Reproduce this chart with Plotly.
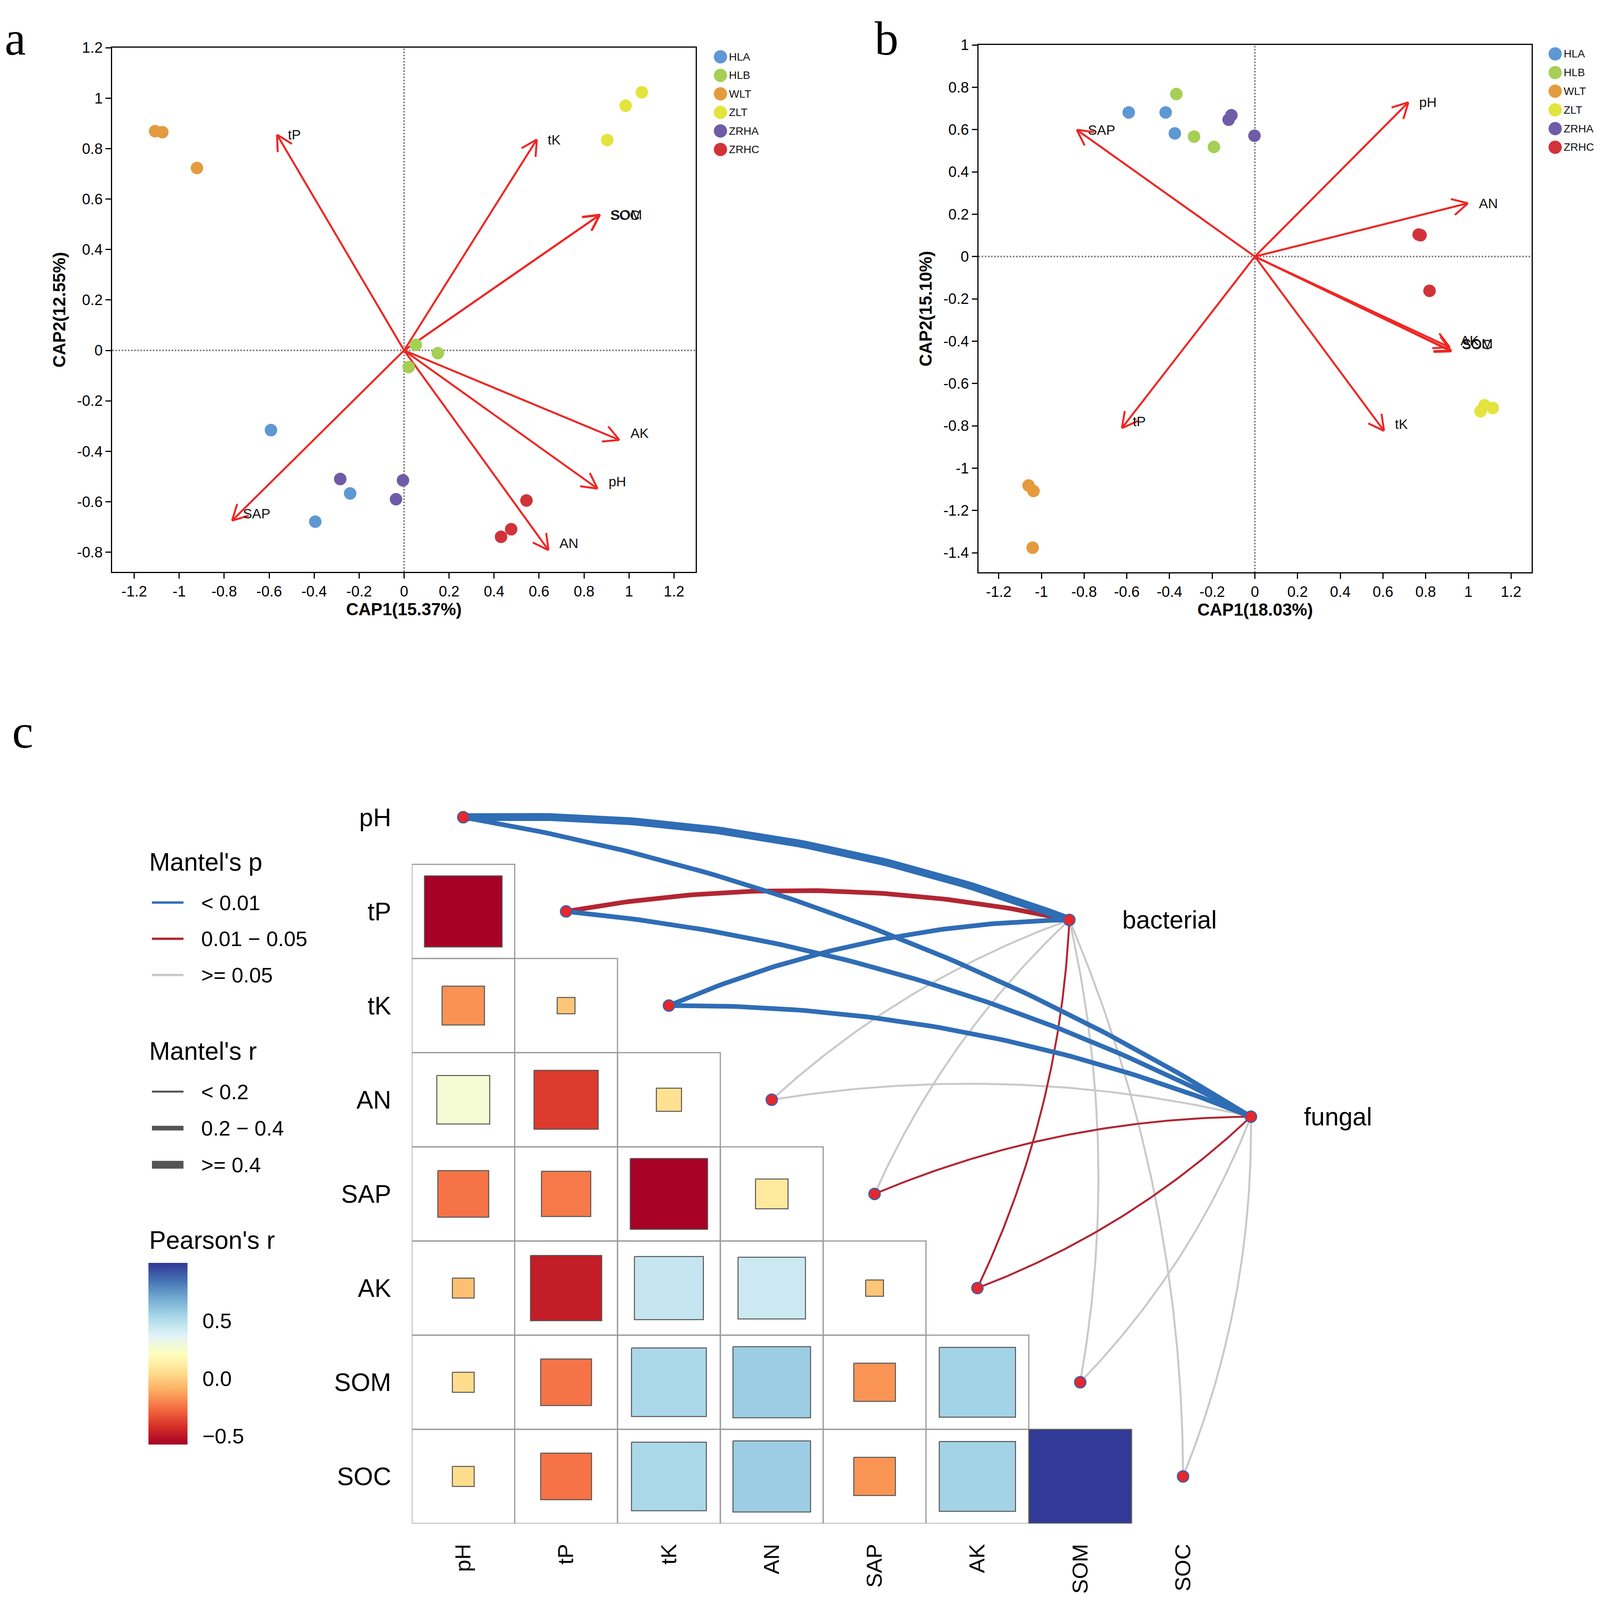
import math
import numpy as np
import plotly.graph_objects as go
from plotly.colors import sample_colorscale

# reference picture size; the figure fills the page (autosize) inside the
# 8px body margin, so positions are paper fractions of the reference pixels
REF_W, REF_H = 4212, 4116
VW, VH = 4100, 4116      # approximate page size seen by the browser
W, H = VW - 16, VH - 16  # figure size inside the body margin

FONT = 'Arial, Liberation Sans, sans-serif'
SERIF = 'Times New Roman, Liberation Serif, serif'


def fx(p):
    # reference pixel -> paper x
    return (p / REF_W * VW - 8) / W


def fy(p):
    # reference pixel -> paper y
    return 1 - (p / REF_H * VH - 8) / H


# ---------------- data: panels a / b ----------------
groups = ['HLA', 'HLB', 'WLT', 'ZLT', 'ZRHA', 'ZRHC']
group_colors = ['#5E98D3', '#A6CF55', '#E49B3E', '#E3E43D', '#6E5CA8', '#D13339']

# bacterial community, three samples per group
a_cap1 = [[-0.592, -0.240, -0.395],
          [0.052, 0.150, 0.020],
          [-1.107, -1.075, -0.921],
          [1.057, 0.985, 0.903],
          [-0.284, -0.005, -0.036],
          [0.544, 0.476, 0.431]]
a_cap2 = [[-0.316, -0.567, -0.679],
          [0.022, -0.011, -0.066],
          [0.869, 0.865, 0.723],
          [1.023, 0.970, 0.834],
          [-0.510, -0.515, -0.590],
          [-0.595, -0.709, -0.739]]

# fungal community
b_cap1 = [[-0.591, -0.418, -0.375],
          [-0.368, -0.285, -0.192],
          [-1.060, -1.037, -1.041],
          [1.057, 1.076, 1.114],
          [-0.123, -0.110, -0.002],
          [0.767, 0.776, 0.818]]
b_cap2 = [[0.681, 0.681, 0.582],
          [0.768, 0.567, 0.518],
          [-1.082, -1.108, -1.376],
          [-0.731, -0.703, -0.716],
          [0.647, 0.668, 0.571],
          [0.104, 0.101, -0.162]]

env = ['pH', 'tP', 'tK', 'AN', 'SAP', 'AK', 'SOM', 'SOC']
a_env_cap1 = [0.860, -0.565, 0.590, 0.642, -0.765, 0.957, 0.871, 0.868]
a_env_cap2 = [-0.548, 0.855, 0.836, -0.792, -0.675, -0.355, 0.538, 0.536]
b_env_cap1 = [0.719, -0.623, 0.605, 0.998, -0.834, 0.913, 0.918, 0.920]
b_env_cap2 = [0.729, -0.811, -0.824, 0.252, 0.599, -0.429, -0.444, -0.448]

a_xticks = [-1.2, -1, -0.8, -0.6, -0.4, -0.2, 0, 0.2, 0.4, 0.6, 0.8, 1, 1.2]
a_yticks = [-0.8, -0.6, -0.4, -0.2, 0, 0.2, 0.4, 0.6, 0.8, 1, 1.2]
b_xticks = a_xticks
b_yticks = [-1.4, -1.2, -1, -0.8, -0.6, -0.4, -0.2, 0, 0.2, 0.4, 0.6, 0.8, 1]

# ---------------- data: panel c ----------------
# Pearson's r, lower triangle (row i against columns 0..i-1)
pearson_r = [
    [],
    [-0.57],
    [-0.17, -0.03],
    [0.265, -0.39, 0.06],
    [-0.245, -0.23, -0.566, 0.10],
    [-0.045, -0.48, 0.45, 0.43, -0.03],
    [0.045, -0.245, 0.53, 0.57, -0.164, 0.55],
    [0.045, -0.245, 0.53, 0.57, -0.164, 0.55, 0.99],
]
r_min, r_max = -0.574, 1.0

targets = ['bacterial', 'fungal']
target_col = [5.894, 7.66]
target_row = [1.09, 3.18]
mantel_r = [[0.45, 0.25, 0.25, 0.12, 0.10, 0.15, 0.10, 0.10],
            [0.30, 0.30, 0.30, 0.10, 0.15, 0.15, 0.10, 0.10]]
mantel_p = [[0.001, 0.02, 0.001, 0.15, 0.20, 0.03, 0.30, 0.30],
            [0.001, 0.001, 0.001, 0.20, 0.02, 0.03, 0.40, 0.40]]

p_labels = ['< 0.01', '0.01 \u2212 0.05', '>= 0.05']
p_colors = ['#2F6DB5', '#B22633', '#C9C9C9']
r_labels = ['< 0.2', '0.2 \u2212 0.4', '>= 0.4']
r_widths = [5, 12, 20]

fig = go.Figure()

# ---------------- panels a and b ----------------
A_X = [fx(295.5), fx(1831)]
A_Y = [fy(1457.5), fy(102)]
B_X = [fx(2576), fx(4032.4)]
B_Y = [fy(1459), fy(95)]
a_xr, a_yr = [-1.2976, 1.2957], [-0.878, 1.2]
b_xr, b_yr = [-1.2945, 1.297], [-1.493, 1.0]


def ord_panel(cap1, cap2, ex, ey, xr, yr, dx, dy, xa, ya):
    kx = (dx[1] - dx[0]) * W / (xr[1] - xr[0])
    ky = (dy[1] - dy[0]) * H / (yr[1] - yr[0])
    # arrows (line + open head)
    ax, ay = [], []
    head, ang = 45, math.radians(28)
    for x, y in zip(ex, ey):
        ax += [0, x, None]
        ay += [0, y, None]
        ux, uy = -x * kx, -y * ky
        n = math.hypot(ux, uy)
        ux, uy = ux / n, uy / n
        for s in (1, -1):
            c, si = math.cos(s * ang), math.sin(s * ang)
            rx, ry = ux * c - uy * si, ux * si + uy * c
            ax += [x + head * rx / kx, x, None]
            ay += [y + head * ry / ky, y, None]
    fig.add_trace(go.Scatter(x=ax, y=ay, mode='lines', xaxis=xa, yaxis=ya,
                             line=dict(color='#EE2724', width=5),
                             hoverinfo='skip', showlegend=False))
    for name, x, y in zip(env, ex, ey):
        fig.add_annotation(x=x, y=y, xref=xa, yref=ya, text=name, showarrow=False,
                           xanchor='left', yanchor='middle', xshift=26,
                           yshift=18 if y < 0 else 0,
                           font=dict(family=FONT, size=35, color='#111'))
    for g, col, xs, ys in zip(groups, group_colors, cap1, cap2):
        fig.add_trace(go.Scatter(x=xs, y=ys, mode='markers', name=g, xaxis=xa, yaxis=ya,
                                 marker=dict(color=col, size=32, line=dict(width=0)),
                                 showlegend=False))


ord_panel(a_cap1, a_cap2, a_env_cap1, a_env_cap2, a_xr, a_yr, A_X, A_Y, 'x', 'y')
ord_panel(b_cap1, b_cap2, b_env_cap1, b_env_cap2, b_xr, b_yr, B_X, B_Y, 'x2', 'y2')

# group keys for a and b (marker column + label)
for xa, ya in (('x4', 'y4'), ('x5', 'y5')):
    fig.add_trace(go.Scatter(x=[0] * len(groups), y=list(range(len(groups))),
                             mode='markers', marker=dict(color=group_colors, size=34),
                             cliponaxis=False, xaxis=xa, yaxis=ya,
                             hoverinfo='skip', showlegend=False))
    for k, g in enumerate(groups):
        fig.add_annotation(x=0, y=k, xref=xa, yref=ya, text=g, showarrow=False,
                           xanchor='left', yanchor='middle', xshift=20,
                           font=dict(family=FONT, size=28, color='#111'))


def ord_axes(dx, dy, xr, yr, xt, yt, xtitle, ytitle, anchor_x, anchor_y):
    tick = dict(ticks='outside', ticklen=14, tickwidth=3, tickcolor='black',
                showline=True, linecolor='black', linewidth=3, mirror=True,
                showgrid=False, zeroline=False,
                tickfont=dict(family=FONT, size=38, color='black'))
    xa = dict(domain=dx, range=xr, tickvals=xt, ticktext=[f'{v:g}' for v in xt],
              anchor=anchor_y,
              title=dict(text=f'<b>{xtitle}</b>', standoff=4,
                         font=dict(family=FONT, size=44, color='black')), **tick)
    ya = dict(domain=dy, range=yr, tickvals=yt, ticktext=[f'{v:g}' for v in yt],
              anchor=anchor_x,
              title=dict(text=f'<b>{ytitle}</b>', standoff=16,
                         font=dict(family=FONT, size=44, color='black')), **tick)
    return xa, ya


xa1, ya1 = ord_axes(A_X, A_Y, a_xr, a_yr, a_xticks, a_yticks, 'CAP1(15.37%)', 'CAP2(12.55%)', 'x', 'y')
xa2, ya2 = ord_axes(B_X, B_Y, b_xr, b_yr, b_xticks, b_yticks, 'CAP1(18.03%)', 'CAP2(15.10%)', 'x2', 'y2')

shapes = []
for xa, ya in (('x', 'y'), ('x2', 'y2')):
    dash = dict(color='#7A7A7A', width=4, dash='dot')
    shapes.append(dict(type='line', xref=xa, yref=f'{ya} domain', x0=0, x1=0, y0=0, y1=1,
                       line=dash, layer='below'))
    shapes.append(dict(type='line', xref=f'{xa} domain', yref=ya, x0=0, x1=1, y0=0, y1=0,
                       line=dash, layer='below'))

# ---------------- panel c ----------------
C_X = [fx(1084.2), fx(3655.8)]
C_Y = [fy(3918.3), fy(1921.5)]
c_xr = [-0.5, 9.0]
c_yr = [7.5, -0.7]
sx = (C_X[1] - C_X[0]) * W / (c_xr[1] - c_xr[0])
sy = (C_Y[1] - C_Y[0]) * H / (c_yr[0] - c_yr[1])

n = len(env)
for i in range(n):
    for j in range(i):
        shapes.append(dict(type='rect', xref='x3', yref='y3', x0=j - 0.5, x1=j + 0.5,
                           y0=i - 0.5, y1=i + 0.5, line=dict(color='#9A9A9A', width=3),
                           layer='below'))

# Mantel links, drawn as quadratic curves
t = np.linspace(0, 1, 80)
edges = []
for k, tname in enumerate(targets):
    for i in range(n):
        r, p = mantel_r[k][i], mantel_p[k][i]
        pc = 0 if p < 0.01 else (1 if p < 0.05 else 2)
        rc = 0 if r < 0.2 else (1 if r < 0.4 else 2)
        edges.append((pc, rc, i, k))
edges.sort(key=lambda e: -e[0])
for pc, rc, i, k in edges:
    x0, y0 = i * sx, i * sy
    x2, y2 = target_col[k] * sx, target_row[k] * sy
    dx, dy = x2 - x0, y2 - y0
    side = 1 if i <= 4 else -1   # upper rows bulge one way, lower rows the other
    cx = (x0 + x2) / 2 + side * 0.1 * dy
    cy = (y0 + y2) / 2 - side * 0.1 * dx
    bx = (1 - t) ** 2 * x0 + 2 * (1 - t) * t * cx + t ** 2 * x2
    by = (1 - t) ** 2 * y0 + 2 * (1 - t) * t * cy + t ** 2 * y2
    fig.add_trace(go.Scatter(x=bx / sx, y=by / sy, mode='lines', xaxis='x3', yaxis='y3',
                             line=dict(color=p_colors[pc], width=r_widths[rc]),
                             hoverinfo='skip', showlegend=False))

# correlation squares
cx_all, cy_all, cr_all = [], [], []
for i, row in enumerate(pearson_r):
    for j, r in enumerate(row):
        h = 0.5 * math.sqrt(abs(r))
        pos = (r - r_min) / (r_max - r_min)
        col = sample_colorscale('RdYlBu', [pos])[0]
        fig.add_trace(go.Scatter(x=[j - h, j + h, j + h, j - h, j - h],
                                 y=[i - h, i - h, i + h, i + h, i - h],
                                 mode='lines', fill='toself', fillcolor=col,
                                 line=dict(color='#555555', width=2.5),
                                 xaxis='x3', yaxis='y3', hoverinfo='skip', showlegend=False))
        cx_all.append(j)
        cy_all.append(i)
        cr_all.append(r)

# invisible markers carrying the colour bar
fig.add_trace(go.Scatter(
    x=cx_all, y=cy_all, mode='markers', xaxis='x3', yaxis='y3', hoverinfo='skip',
    showlegend=False,
    marker=dict(size=0, color=cr_all, colorscale='RdYlBu', cmin=r_min, cmax=r_max,
                showscale=True,
                colorbar=dict(x=fx(391), xanchor='left', y=fy(3479.5), yanchor='middle',
                              len=fy(3244.6) - fy(3714.3), lenmode='fraction',
                              thickness=100, thicknessmode='pixels',
                              outlinewidth=0, xpad=0, ypad=0,
                              tickvals=[-0.5, 0, 0.5], ticktext=['\u22120.5', '0.0', '0.5'],
                              ticks='outside', ticklen=28, tickwidth=3,
                              tickcolor='rgba(0,0,0,0)',
                              tickfont=dict(family=FONT, size=54, color='black')))))

# nodes
fig.add_trace(go.Scatter(x=list(range(n)) + target_col, y=list(range(n)) + target_row,
                         mode='markers', xaxis='x3', yaxis='y3', hoverinfo='skip',
                         showlegend=False, cliponaxis=False,
                         marker=dict(color='#E8262B', size=29,
                                     line=dict(color='#3562AE', width=3))))
for k, tname in enumerate(targets):
    fig.add_annotation(x=target_col[k], y=target_row[k], xref='x3', yref='y3', text=tname,
                       showarrow=False, xanchor='left', yanchor='middle', xshift=134,
                       font=dict(family=FONT, size=64, color='black'))

# panel c legend (Mantel's p, Mantel's r)
annotations = []
leg_titles = [("Mantel's p", 2208), ("Mantel's r", 2697), ("Pearson's r", 3186)]
for txt, yy in leg_titles:
    annotations.append(dict(x=fx(391), y=fy(yy), xref='paper', yref='paper', text=txt,
                            showarrow=False, xanchor='left', yanchor='middle',
                            font=dict(family=FONT, size=64, color='black')))
for k, (lab, col) in enumerate(zip(p_labels, p_colors)):
    yy = 2312.6 + 93.7 * k
    shapes.append(dict(type='line', xref='paper', yref='paper', x0=fx(400), x1=fx(483),
                       y0=fy(yy), y1=fy(yy), line=dict(color=col, width=6)))
    annotations.append(dict(x=fx(528), y=fy(yy), xref='paper', yref='paper', text=lab,
                            showarrow=False, xanchor='left', yanchor='middle',
                            font=dict(family=FONT, size=54, color='black')))
for k, (lab, wd) in enumerate(zip(r_labels, r_widths)):
    yy = 2801.5 + 94.5 * k
    shapes.append(dict(type='line', xref='paper', yref='paper', x0=fx(400), x1=fx(483),
                       y0=fy(yy), y1=fy(yy), line=dict(color='#555555', width=wd)))
    annotations.append(dict(x=fx(528), y=fy(yy), xref='paper', yref='paper', text=lab,
                            showarrow=False, xanchor='left', yanchor='middle',
                            font=dict(family=FONT, size=54, color='black')))

# panel letters (a and b hang from the top edge)
for letter, xx, yy, anchor in (('a', 10, None, 'top'), ('b', 2300, None, 'top'),
                               ('c', 30, 1940, 'bottom')):
    annotations.append(dict(x=fx(xx), y=1 if yy is None else fy(yy), xref='paper',
                            yref='paper', text=letter, showarrow=False, xanchor='left',
                            yanchor=anchor,
                            font=dict(family=SERIF, size=122, color='black')))

hidden = dict(visible=False, showgrid=False, zeroline=False)
fig.update_layout(
    autosize=True, margin=dict(l=0, r=0, t=0, b=0),
    paper_bgcolor='white', plot_bgcolor='white', showlegend=False,
    xaxis=xa1, yaxis=ya1, xaxis2=xa2, yaxis2=ya2,
    xaxis3=dict(domain=C_X, range=c_xr, anchor='y3', tickvals=list(range(n)), ticktext=env,
                tickangle=-90, ticks='', showline=False, showgrid=False, zeroline=False,
                ticklabelstandoff=40, tickfont=dict(family=FONT, size=56, color='black')),
    yaxis3=dict(domain=C_Y, range=c_yr, anchor='x3', tickvals=list(range(n)), ticktext=env,
                ticks='', showline=False, showgrid=False, zeroline=False,
                ticklabelstandoff=52, tickfont=dict(family=FONT, size=64, color='black')),
    xaxis4=dict(domain=[fx(1896.6), fx(2150)], range=[0, 1], anchor='y4', **hidden),
    yaxis4=dict(domain=[fy(125.7 + 5.5 * 47.9), fy(125.7 - 0.5 * 47.9)], range=[5.5, -0.5],
                anchor='x4', **hidden),
    xaxis5=dict(domain=[fx(4094), fx(4200)], range=[0, 1], anchor='y5', **hidden),
    yaxis5=dict(domain=[fy(118 + 5.5 * 48.3), fy(118 - 0.5 * 48.3)], range=[5.5, -0.5],
                anchor='x5', **hidden),
    shapes=shapes,
)
for a in annotations:
    fig.add_annotation(**a)

fig.write_html("out.html")
